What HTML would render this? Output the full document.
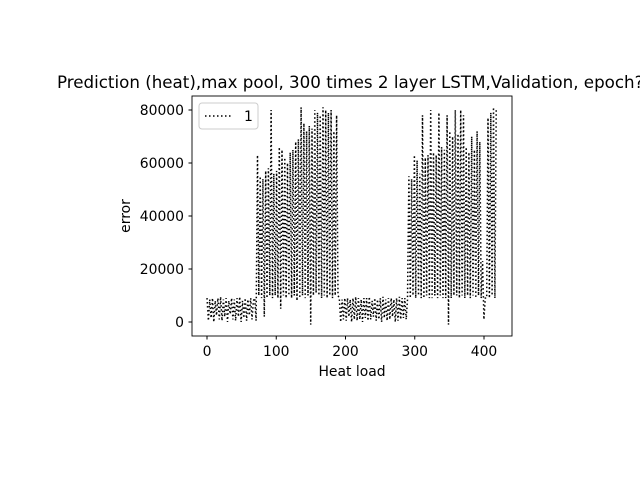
<!DOCTYPE html>
<html><head><meta charset="utf-8"><style>body{margin:0;background:#fff}svg{display:block;font-family:"DejaVu Sans","Liberation Sans",sans-serif}</style></head>
<body>
<svg id="chart" width="640" height="480" xmlns="http://www.w3.org/2000/svg">
<rect width="640" height="480" fill="#fff"/>
<text x="57" y="88" font-size="16.7">Prediction (heat),max pool, 300 times 2 layer LSTM,Validation, epoch?</text>
<g id="plot"></g>
<rect x="192" y="96" width="320" height="240" fill="none" stroke="#000" stroke-width="0.9"/>
<text x="352" y="376" font-size="13.9" text-anchor="middle">Heat load</text>
<text transform="translate(130,216) rotate(-90)" font-size="13.9" text-anchor="middle">error</text>
<g>
<rect x="199" y="103" width="59" height="26" rx="3" fill="#fff" stroke="#ccc"/>
<line x1="205" y1="116" x2="233" y2="116" stroke="#000" stroke-width="1.5" stroke-dasharray="1.5,2.5"/>
<text x="244" y="121" font-size="13.9">1</text>
</g>
</svg>
<script>
const xStart = 0;
const xStep = 1.97;
const values = [
9000,500,8500,1500,9000,0,8000,2500,9000,1000,9500,500,8500,2000,9000,0,8000,3000,9000,1000,8500,500,9000,2000,9500,0,8000,1500,9000,500,8500,2500,9000,1000,8000,9000,500,
63000,10000,55000,9000,54000,2000,57000,9000,58000,10000,80000,9000,56000,10000,57000,9000,66000,5000,65000,10000,62000,9000,60000,10000,64000,9000,65000,10000,68000,8000,69000,9000,81000,10000,75000,9000,72000,10000,74000,-1000,73000,10000,80000,11000,79000,10000,78000,9000,81000,10000,80000,9000,79000,10000,80000,9000,72000,10000,78000,10000,
9000,0,8500,1000,9000,500,9000,2000,8500,0,9000,1000,9500,500,9000,1000,8500,0,9000,1500,9000,500,9500,1000,8000,2000,9000,500,8500,1000,9000,0,9500,1500,8500,500,9000,1000,9000,2000,8500,0,9000,500,9500,1000,9000,1500,9000,1000,8500,
55000,9000,54000,10000,63000,9000,61000,10000,56000,9000,78000,9000,62000,10000,63000,9000,80000,9000,64000,10000,63000,9000,79000,10000,66000,9000,65000,9000,78000,-1000,72000,9000,70000,10000,80000,10000,71000,9000,80000,10000,78000,9000,66000,10000,64000,9000,70000,10000,65000,9000,72000,10000,68000,9000,
23000,1000,9000,9000,77000,9000,79000,10000,81000,9000,80000];
const xTicks = [0,100,200,300,400];
const yTicks = [0,20000,40000,60000,80000];
const yTickLabels = ["0","20000","40000","60000","80000"];
const NS="http://www.w3.org/2000/svg";
const xs = v => 207 + (v-0)*(484-207)/400;
const ys = v => 322 - v*(322-110)/80000;
const svg=document.getElementById('chart');
const plot=document.getElementById('plot');
let d='';
values.forEach((v,i)=>{d+=(i?'L':'M')+xs(xStart+i*xStep).toFixed(1)+','+ys(v).toFixed(1);});
const p=document.createElementNS(NS,'path');
p.setAttribute('d',d);p.setAttribute('fill','none');p.setAttribute('stroke','#000');
p.setAttribute('stroke-width','1.5');p.setAttribute('stroke-dasharray','1.5,2.5');


plot.appendChild(p);
xTicks.forEach(t=>{
 const l=document.createElementNS(NS,'line');
 l.setAttribute('x1',xs(t));l.setAttribute('x2',xs(t));l.setAttribute('y1',336);l.setAttribute('y2',339.5);l.setAttribute('stroke','#000');
 
 
 svg.appendChild(l);
 const tx=document.createElementNS(NS,'text');
 tx.setAttribute('x',xs(t));tx.setAttribute('y',356);tx.setAttribute('font-size','13.9');tx.setAttribute('text-anchor','middle');
 tx.textContent=String(t);
 
 
 svg.appendChild(tx);
});
yTicks.forEach((t,i)=>{
 const l=document.createElementNS(NS,'line');
 l.setAttribute('x1',188.5);l.setAttribute('x2',192);l.setAttribute('y1',ys(t));l.setAttribute('y2',ys(t));l.setAttribute('stroke','#000');
 
 
 svg.appendChild(l);
 const tx=document.createElementNS(NS,'text');
 tx.setAttribute('x',184);tx.setAttribute('y',ys(t)+5);tx.setAttribute('font-size','13.9');tx.setAttribute('text-anchor','end');
 tx.textContent=yTickLabels[i];
 
 
 svg.appendChild(tx);
});
</script>
</body></html>
